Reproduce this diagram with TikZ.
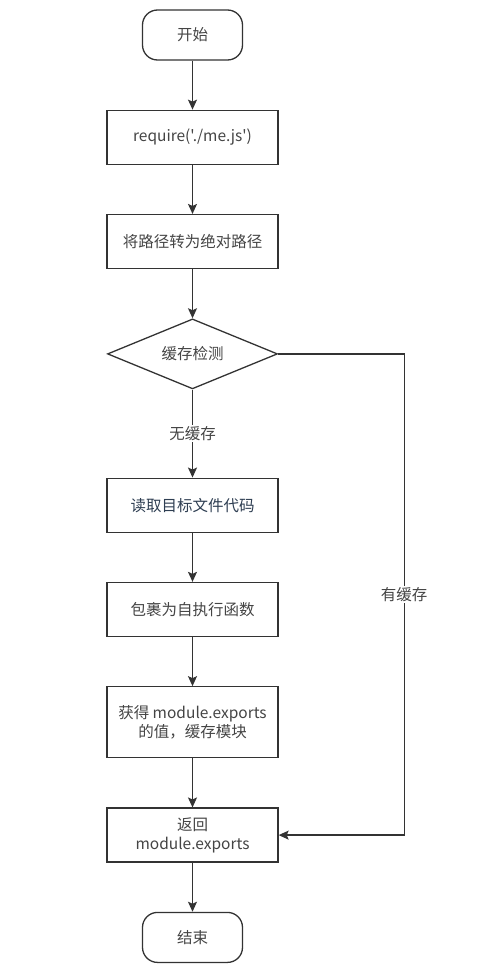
\documentclass[tikz,border=0pt]{standalone}
\usepackage{fontspec}
\setmainfont{Noto Sans CJK SC}
\newfontfamily\rawfont{Noto Sans CJK SC}
\usepackage{tikz}
\usetikzlibrary{arrows.meta,positioning,shapes.geometric}
\definecolor{linegray}{HTML}{333333}
\definecolor{textgray}{HTML}{444444}
\definecolor{textblue}{HTML}{2E3E52}

\begin{document}
\begin{tikzpicture}[
    x=1pt, y=1pt,
    node distance=49pt,
    font=\fontsize{15.5}{19}\selectfont,
    every node/.style={text=textgray},
    block/.style={draw=linegray, line width=1.3pt, minimum width=171pt, minimum height=54pt, align=center, inner sep=2pt},
    terminal/.style={draw=linegray, line width=1.3pt, rounded corners=15pt, minimum width=100pt, minimum height=50pt},
    decision/.style={draw=linegray, line width=1.3pt, diamond, aspect=2.43, minimum width=170pt, minimum height=70pt, inner sep=0pt},
    arrow/.style={draw=linegray, line width=1.3pt, -{Stealth[length=10pt, width=9pt, inset=2pt]}},
]
    \useasboundingbox (0,0) rectangle (477,-974);

    \node[terminal] (start) at (192.5,-35) {开始};
    \node[block, below=of start] (req) {{\rawfont require('./me.js')}};
    \node[block, below=of req] (abspath) {将路径转为绝对路径};
    \node[decision, below=of abspath] (cache) {缓存检测};
    \node[block, below=88pt of cache, text=textblue] (read) {读取目标文件代码};
    \node[block, below=of read] (wrap) {包裹为自执行函数};
    \node[block, below=of wrap, minimum height=71pt] (exports) {获得 module.exports\\的值，缓存模块};
    \node[block, below=of exports] (ret) {返回\\module.exports};
    \node[terminal, below=of ret] (finish) {结束};

    \draw[arrow] (start) -- (req);
    \draw[arrow] (req) -- (abspath);
    \draw[arrow] (abspath) -- (cache);
    \draw[arrow] (cache) -- node[fill=white, inner sep=1pt] {无缓存} (read);
    \draw[arrow] (read) -- (wrap);
    \draw[arrow] (wrap) -- (exports);
    \draw[arrow] (exports) -- (ret);
    \draw[arrow] (ret) -- (finish);
    \draw[arrow] (cache.east) -- ++(126pt,0) |- node[pos=0.25, fill=white, inner sep=1pt] {有缓存} (ret.east);
\end{tikzpicture}
\end{document}
